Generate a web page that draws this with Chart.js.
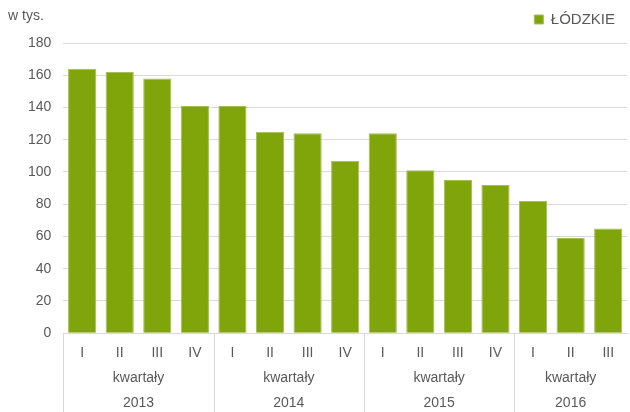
<!DOCTYPE html>
<html>
<head>
<meta charset="utf-8">
<script src="https://cdn.jsdelivr.net/npm/chart.js@4"></script>
<style>
  html, body { margin: 0; padding: 0; background: #fff; }
  #wrap { width: 630px; height: 412px; position: relative; }
</style>
</head>
<body>
<div id="wrap"><canvas id="chart"></canvas></div>
<script>
const quarters = ['I', 'II', 'III', 'IV', 'I', 'II', 'III', 'IV', 'I', 'II', 'III', 'IV', 'I', 'II', 'III'];
const values = [164, 162, 158, 141, 141, 125, 124, 107, 124, 101, 95, 92, 82, 59, 65];
const years = ['2013', '2014', '2015', '2016'];
const groupSizes = [4, 4, 4, 3];
const groupLabel = 'kwartały';
const seriesName = 'ŁÓDZKIE';
const unitLabel = 'w tys.';

const textColor = '#595959';
const gridColor = '#d9d9d9';
const font = 'Liberation Sans, Arial, sans-serif';

// a bit more room under the legend
const legendGap = {
  id: 'legendGap',
  beforeInit(chart) {
    const fit = chart.legend.fit;
    chart.legend.fit = function() {
      fit.call(this);
      this.height += 6;
    };
  }
};

// draws the year groups under the quarter ticks, and the unit text
const groupAxis = {
  id: 'groupAxis',
  afterDraw(chart) {
    const ctx = chart.ctx;
    const x = chart.scales.x;
    const area = chart.chartArea;
    const half = (x.getPixelForValue(1) - x.getPixelForValue(0)) / 2;
    ctx.save();
    ctx.strokeStyle = gridColor;
    ctx.lineWidth = 1;
    ctx.fillStyle = textColor;
    ctx.font = '14px ' + font;
    ctx.textAlign = 'center';
    ctx.textBaseline = 'middle';
    let start = 0;
    groupSizes.forEach((n, g) => {
      const left = x.getPixelForValue(start) - half;
      const right = x.getPixelForValue(start + n - 1) + half;
      ctx.beginPath();
      ctx.moveTo(Math.round(left) + 0.5, area.bottom);
      ctx.lineTo(Math.round(left) + 0.5, chart.height);
      ctx.stroke();
      const mid = (left + right) / 2;
      ctx.fillText(groupLabel, mid, area.bottom + 45);
      ctx.fillText(years[g], mid, area.bottom + 70);
      start += n;
    });
    ctx.textAlign = 'left';
    ctx.fillText(unitLabel, 8, 16);
    ctx.restore();
  }
};

new Chart(document.getElementById('chart'), {
  type: 'bar',
  data: {
    labels: quarters,
    datasets: [{
      label: seriesName,
      data: values,
      backgroundColor: '#80a50b',
      borderColor: '#a3bf55',
      borderWidth: 1,
      categoryPercentage: 1,
      barPercentage: 0.75
    }]
  },
  options: {
    responsive: true,
    maintainAspectRatio: false,
    animation: false,
    layout: { padding: { left: 16, right: 3, top: 0, bottom: 46 } },
    plugins: {
      tooltip: { enabled: false },
      legend: {
        position: 'top',
        align: 'end',
        labels: {
          boxWidth: 9,
          boxHeight: 9,
          padding: 12,
          color: textColor,
          font: { family: font, size: 15 }
        }
      }
    },
    scales: {
      x: {
        grid: { display: false },
        border: { display: true, color: gridColor },
        ticks: {
          color: textColor,
          padding: 4,
          font: { family: font, size: 14 }
        }
      },
      y: {
        min: 0,
        max: 180,
        grid: { color: gridColor, drawTicks: false },
        border: { display: false },
        ticks: {
          stepSize: 20,
          padding: 12,
          color: textColor,
          font: { family: font, size: 14 }
        }
      }
    }
  },
  plugins: [legendGap, groupAxis]
});
</script>
</body>
</html>
